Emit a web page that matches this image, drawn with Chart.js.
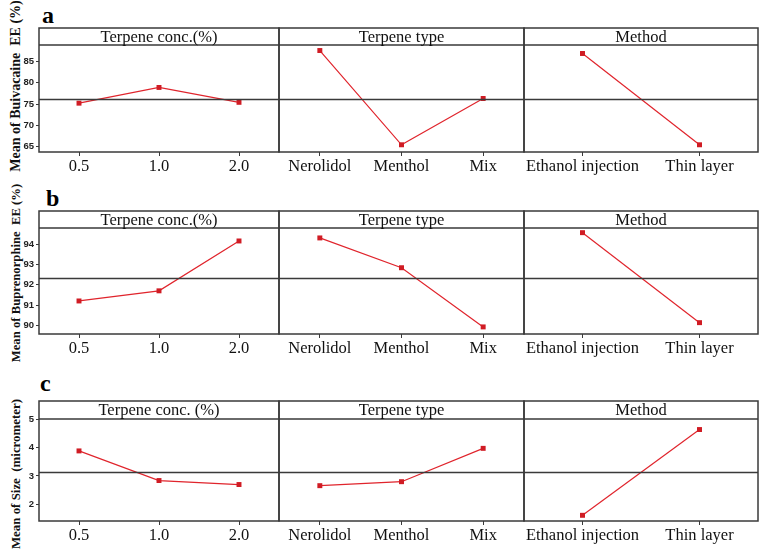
<!DOCTYPE html>
<html>
<head>
<meta charset="utf-8">
<script src="https://cdn.jsdelivr.net/npm/chart.js@4.4.0/dist/chart.umd.min.js"></script>
<style>
  body { margin: 0; background: #fff; }
  #fig { position: relative; width: 766px; height: 553px; overflow: hidden; }
  #fig canvas { position: absolute; }
  .lab { position: absolute; font: bold 24px "Liberation Serif", serif; color: #000; }
  .ytitle { position: absolute; font-weight: bold; font-family: "Liberation Serif", serif; color: #111;
            white-space: nowrap; transform: translate(-50%, -50%) rotate(-90deg); }
</style>
</head>
<body>
<div id="fig">
  <div class="lab" style="left:42px;top:2px;">a</div>
  <div class="lab" style="left:46px;top:185px;">b</div>
  <div class="lab" style="left:40px;top:370px;">c</div>
  <div class="ytitle" style="left:16px;top:86px;font-size:14px;">Mean of Buivacaine&nbsp; EE (%)</div>
  <div class="ytitle" style="left:16px;top:273px;font-size:12.7px;">Mean of Buprenorphine&nbsp; EE (%)</div>
  <div class="ytitle" style="left:16px;top:474px;font-size:12.9px;">Mean of Size&nbsp; (micrometer)</div>
</div>
<script>
// factor levels
var concLabels = ["0.5", "1.0", "2.0"];
var typeLabels = ["Nerolidol", "Menthol", "Mix"];
var methodLabels = ["Ethanol injection", "Thin layer"];

// a: bupivacaine EE (%)
var bupiConc = [75.2, 78.9, 75.4];
var bupiType = [87.6, 65.4, 76.3];
var bupiMethod = [86.9, 65.4];
var bupiMean = 76.3;
var bupiTicks = [65, 70, 75, 80, 85];
var bupiRange = [63.7, 88.9];

// b: buprenorphine EE (%)
var bupreConc = [91.2, 91.7, 94.16];
var bupreType = [94.31, 92.84, 89.92];
var bupreMethod = [94.57, 90.13];
var bupreMean = 92.33;
var bupreTicks = [90, 91, 92, 93, 94];
var bupreRange = [89.57, 94.8];

// c: size (micrometer)
var sizeConc = [3.88, 2.84, 2.70];
var sizeType = [2.66, 2.80, 3.97];
var sizeMethod = [1.62, 4.63];
var sizeMean = 3.13;
var sizeTicks = [2, 3, 4, 5];
var sizeRange = [1.42, 5.0];

var EDGE = "#3a3a3a";
var RED = "#e0242c";

var panelBox = {
  id: "panelBox",
  afterDraw: function (chart, args, opts) {
    var c = chart.ctx, a = chart.chartArea;
    var y = chart.scales.y;
    c.save();
    c.strokeStyle = EDGE;
    c.lineWidth = 1.5;
    c.strokeRect(a.left, a.top - opts.strip, a.right - a.left, a.bottom - a.top + opts.strip);
    c.beginPath();
    c.moveTo(a.left, a.top);
    c.lineTo(a.right, a.top);
    var my = Math.round(y.getPixelForValue(opts.mean)) + 0.5;
    c.moveTo(a.left, my);
    c.lineTo(a.right, my);
    c.stroke();
    c.fillStyle = "#111";
    c.font = '16.5px "Liberation Serif", serif';
    c.textAlign = "center";
    c.textBaseline = "middle";
    c.fillText(opts.title, (a.left + a.right) / 2, a.top - opts.strip / 2 + 1);
    c.restore();
  }
};

var rows = [
  { top: 28, strip: 17, bottom: 152, mean: bupiMean, ticks: bupiTicks, range: bupiRange,
    sets: [bupiConc, bupiType, bupiMethod], titles: ["Terpene conc.(%)", "Terpene type", "Method"] },
  { top: 211, strip: 17, bottom: 334, mean: bupreMean, ticks: bupreTicks, range: bupreRange,
    sets: [bupreConc, bupreType, bupreMethod], titles: ["Terpene conc.(%)", "Terpene type", "Method"] },
  { top: 401, strip: 18, bottom: 521, mean: sizeMean, ticks: sizeTicks, range: sizeRange,
    sets: [sizeConc, sizeType, sizeMethod], titles: ["Terpene conc. (%)", "Terpene type", "Method"] }
];
var cols = [
  { left: 39, right: 279, labels: concLabels },
  { left: 279, right: 524, labels: typeLabels },
  { left: 524, right: 758, labels: methodLabels }
];

var fig = document.getElementById("fig");

rows.forEach(function (row) {
  cols.forEach(function (col, ci) {
    var first = ci === 0;
    var padL = first ? 39 : 1;
    var cv = document.createElement("canvas");
    var w = col.right - col.left + padL + 1;
    var h = row.bottom - row.top + 1 + 25;
    cv.width = w; cv.height = h;
    cv.style.left = (col.left - padL) + "px";
    cv.style.top = (row.top - 1) + "px";
    cv.style.width = w + "px"; cv.style.height = h + "px";
    fig.appendChild(cv);

    new Chart(cv.getContext("2d"), {
      type: "line",
      data: {
        labels: col.labels,
        datasets: [{
          data: row.sets[ci],
          borderColor: RED,
          backgroundColor: "#d01c24",
          borderWidth: 1.2,
          pointStyle: "rect",
          pointRadius: 3.5,
          pointBorderWidth: 0,
          tension: 0
        }]
      },
      options: {
        responsive: false,
        animation: false,
        devicePixelRatio: 1,
        layout: { autoPadding: false, padding: { top: row.strip + 1, left: first ? 0 : 1, right: 1, bottom: 0 } },
        plugins: {
          legend: { display: false },
          tooltip: { enabled: false },
          panelBox: { strip: row.strip, mean: row.mean, title: row.titles[ci] }
        },
        scales: {
          x: {
            type: "category",
            offset: true,
            grid: { offset: false, drawOnChartArea: false, drawTicks: true, tickLength: 4, color: EDGE },
            border: { display: false },
            ticks: { color: "#111", padding: 1, maxRotation: 0, autoSkip: false,
                     font: { family: "Liberation Serif", size: 16.5 } },
            afterFit: function (s) { s.height = 25; s.paddingLeft = 0; s.paddingRight = 0; }
          },
          y: {
            display: first,
            min: row.range[0],
            max: row.range[1],
            afterBuildTicks: function (s) { s.ticks = row.ticks.map(function (v) { return { value: v }; }); },
            grid: { drawOnChartArea: false, drawTicks: true, tickLength: 3, color: EDGE },
            border: { display: false },
            ticks: { color: "#222", padding: 2, font: { family: "Liberation Sans", size: 9.5, weight: "bold" } },
            afterFit: function (s) { s.width = first ? 39 : 0; s.paddingTop = 0; s.paddingBottom = 0; }
          }
        }
      },
      plugins: [panelBox]
    });
  });
});
</script>
</body>
</html>
